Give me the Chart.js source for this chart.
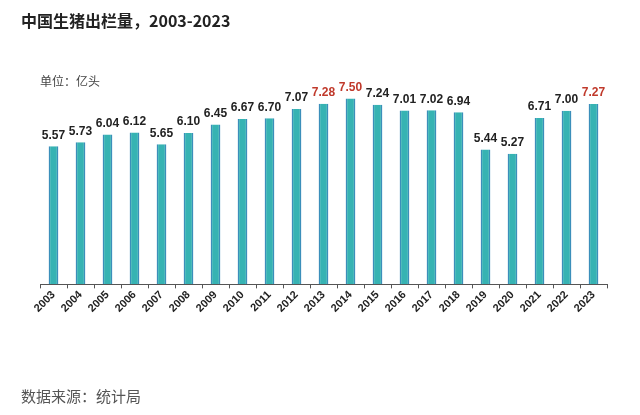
<!DOCTYPE html>
<html><head><meta charset="utf-8">
<script src="https://cdn.jsdelivr.net/npm/chart.js@4.4.1/dist/chart.umd.min.js"></script>
<style>
html,body{margin:0;padding:0;background:#fff;width:640px;height:415px;overflow:hidden;}
#wrap{position:absolute;left:0;top:0;width:640px;height:415px;}
.t{position:absolute;font-family:"Noto Sans CJK SC","Liberation Sans",sans-serif;white-space:nowrap;}
#title{left:21px;top:8px;font-size:16px;font-weight:bold;color:#222;}
#unit{left:40px;top:72px;font-size:12px;color:#444;}
#src{left:21px;top:385px;font-size:15px;color:#555;}
</style></head>
<body>
<div id="wrap"><canvas id="c" width="640" height="415"></canvas></div>
<div class="t" id="title">中国生猪出栏量，2003-2023</div>
<div class="t" id="unit">单位：亿头</div>
<div class="t" id="src">数据来源：统计局</div>
<script>
const years = ["2003","2004","2005","2006","2007","2008","2009","2010","2011","2012","2013","2014","2015","2016","2017","2018","2019","2020","2021","2022","2023"];
const hogsOut = [5.57,5.73,6.04,6.12,5.65,6.10,6.45,6.67,6.70,7.07,7.28,7.50,7.24,7.01,7.02,6.94,5.44,5.27,6.71,7.00,7.27];
const highlightYears = ["2013","2014","2023"];

const labelPlugin = {
  id: 'valLabels',
  afterDatasetsDraw(chart) {
    const ctx = chart.ctx;
    const meta = chart.getDatasetMeta(0);
    ctx.save();
    ctx.font = 'bold 12px "Liberation Sans", Arial, sans-serif';
    ctx.textAlign = 'center';
    ctx.textBaseline = 'bottom';
    meta.data.forEach((bar, i) => {
      ctx.fillStyle = highlightYears.includes(years[i]) ? '#c0392b' : '#222';
      ctx.fillText(hogsOut[i].toFixed(2), bar.x, bar.y - 5);
    });
    ctx.restore();
  }
};

new Chart(document.getElementById('c'), {
  type: 'bar',
  data: {
    labels: years,
    datasets: [{
      data: hogsOut,
      backgroundColor: '#36b3b3',
      borderColor: '#3b8fba',
      borderWidth: {left:1.5, right:1.5, top:0, bottom:0},
      barPercentage: 0.36,
      categoryPercentage: 1.0
    }]
  },
  options: {
    responsive: false,
    animation: false,
    devicePixelRatio: 1,
    layout: { padding: { left: 40, right: 33, top: 86, bottom: 100 } },
    plugins: { legend: { display: false }, tooltip: { enabled: false } },
    scales: {
      y: { display: false, min: 0, max: 8 },
      x: {
        border: { display: true, color: '#555', width: 1 },
        grid: { display: true, drawOnChartArea: false, drawTicks: true, tickLength: 4, color: '#555', offset: true },
        ticks: {
          color: '#222',
          font: { family: '"Liberation Sans", Arial, sans-serif', size: 11, weight: 'bold' },
          minRotation: 45, maxRotation: 45, padding: 0, autoSkip: false
        }
      }
    }
  },
  plugins: [labelPlugin]
});
</script>
</body></html>
